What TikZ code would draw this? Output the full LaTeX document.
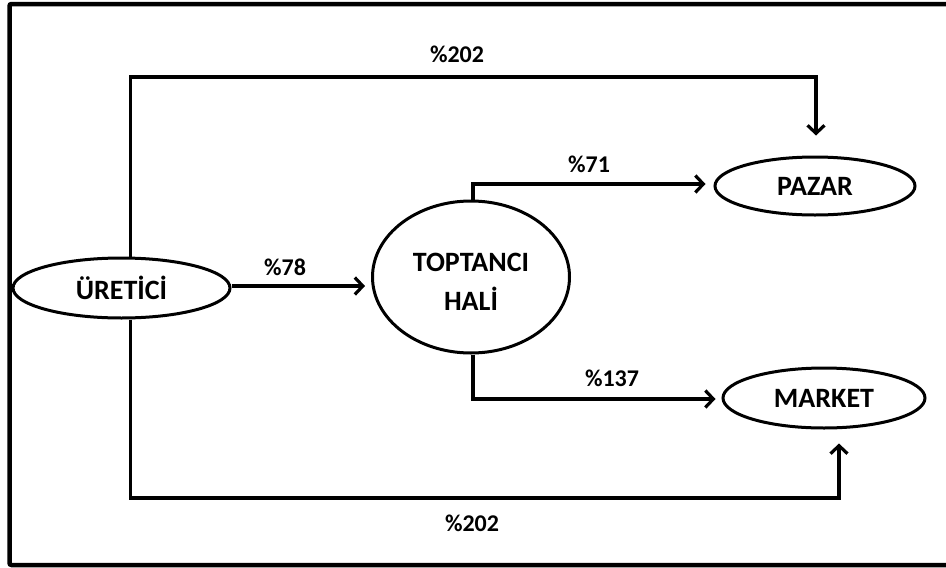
\documentclass[tikz,border=0pt]{standalone}
\usepackage{fontspec}
\setmainfont{Carlito}
\usetikzlibrary{shapes.geometric,arrows.meta}
\begin{document}
\begin{tikzpicture}[x=1pt,y=-1pt,
  oval/.style={ellipse,draw,line width=3pt,inner sep=0pt,font=\fontsize{28}{37}\selectfont\bfseries,align=center},
  lbl/.style={font=\fontsize{24}{28}\selectfont\bfseries,inner sep=0pt},
  conn/.style={line width=3.2pt},
  arr/.style={conn,-{Straight Barb[length=8pt,width=17pt,line width=3.2pt]}}]
\useasboundingbox (0,0) rectangle (946,568);
\draw[line width=4.5pt,rounded corners=2pt] (960,4) -| (9.5,565) -- (960,565);
\node[oval,minimum width=217pt,minimum height=60pt] (U) at (121.5,288) {ÜRETİCİ};
\node[oval,minimum width=197pt,minimum height=152pt] (T) at (471,277) {\begin{tabular}{@{}c@{}}\rule{0pt}{40pt}TOPTANCI\\[2pt]HALİ\end{tabular}};
\node[oval,minimum width=200pt,minimum height=58pt] (P) at (815,186) {PAZAR};
\node[oval,minimum width=202pt,minimum height=60pt] (M) at (824,398) {MARKET};
\coordinate (topy) at (0,77);
\coordinate (boty) at (0,498);
\draw[arr,shorten >=20pt] ([xshift=9pt]U.north) -- ([xshift=9pt]U.north |- topy) -| ([xshift=1pt]P.north);
\draw[arr,shorten >=14pt] ([xshift=9pt]U.south) -- ([xshift=9pt]U.south |- boty) -| ([xshift=15pt]M.south);
\draw[arr,shorten >=6pt] ([yshift=2pt]U.east) -- ([yshift=2pt]U.east -| T.west);
\draw[arr,shorten >=8pt] ([xshift=2pt]T.north) |- ([yshift=2pt]P.west);
\draw[arr,shorten >=6pt] ([xshift=2pt]T.south) |- ([yshift=-1pt]M.west);
\node[lbl] (l1) at (457,54) {\%202};
\node[lbl] (l2) at (589,164) {\%71};
\node[lbl] (l3) at (285,267) {\%78};
\node[lbl] (l4) at (612,378) {\%137};
\node[lbl] (l5) at (472,523) {\%202};
\end{tikzpicture}
\end{document}
